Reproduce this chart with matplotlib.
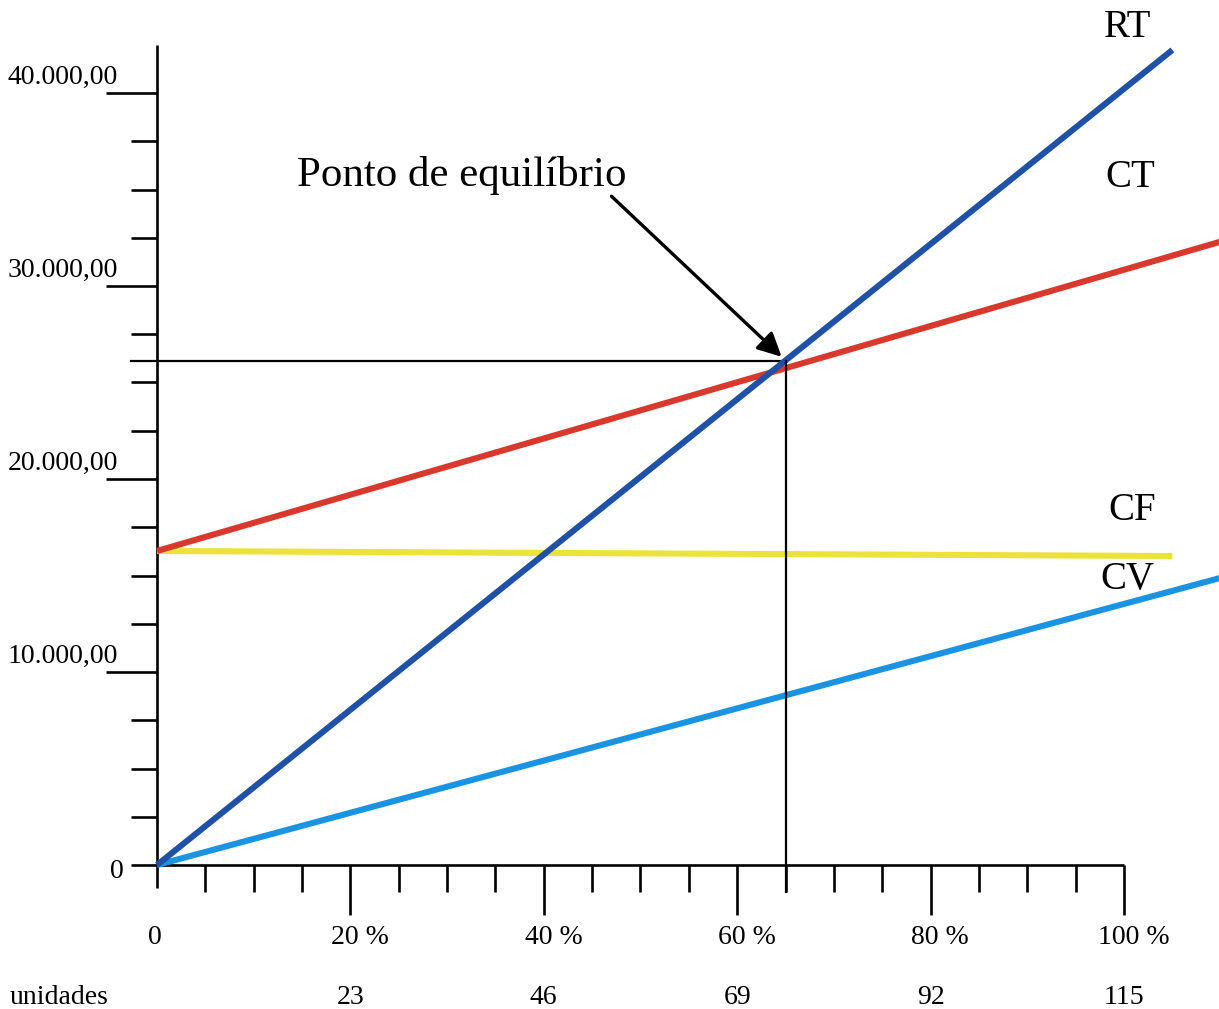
import numpy as np
import matplotlib.pyplot as plt

plt.rcParams['font.family'] = ['Liberation Serif', 'DejaVu Serif']

# x axis: percent of capacity, second row = units
pct = [0, 20, 40, 60, 80, 100]
pct_labels = ['0', '20 %', '40 %', '60 %', '80 %', '100 %']
unidades = ['23', '46', '69', '92', '115']

# y axis: R$
y_vals = [0, 10000, 20000, 30000, 40000]
y_labels = ['0', '10.000,00', '20.000,00', '30.000,00', '40.000,00']

# lines (start / end in % and R$)
rt_x = [0, 105.0]
rt_y = [0, 42230]
ct_x = [0, 110.0]
ct_y = [16270, 32300]
cf_x = [0, 105.0]
cf_y = [16270, 16010]
cv_x = [0, 110.0]
cv_y = [0, 14880]

# break-even point
pe_x = 65
pe_y = 26110

# figure layout: 1 % = 9.67 px, 1000 R$ = 19.3 px
px_x = 9.67
px_y = 0.0193
W, H = 1219, 1009
x0, y0 = 157, 865

fig = plt.figure(figsize=(W / 100, H / 100), dpi=100)
ax = fig.add_axes([0, 0, 1, 1])
ax.set_xlim(-x0 / px_x, (W - x0) / px_x)
ax.set_ylim((y0 - H) / px_y, y0 / px_y)
ax.axis('off')


def dx(p):
    return p / px_x


def dy(p):
    return p / px_y


k = 'black'
axlw = 1.9
fs = 20

# axes
ax.plot([0, 0], [-dy(23), dy(y0 - 45)], color=k, lw=axlw, solid_capstyle='butt')
ax.plot([-dx(26), 100], [0, 0], color=k, lw=axlw, solid_capstyle='butt')

# y ticks
for v in np.arange(2500, 40001, 2500):
    ln = 51 if v in y_vals else 26
    ax.plot([-dx(ln), 0], [v, v], color=k, lw=axlw, solid_capstyle='butt')
for v, lab in zip(y_vals, y_labels):
    if v == 0:
        ax.text(-dx(33), v - dy(7), lab, ha='right', va='center', fontsize=fs)
    else:
        ax.text(-dx(39), v + dy(3), lab, ha='right', va='bottom', fontsize=fs)

# x ticks
for p in np.arange(5, 101, 5):
    ln = 50 if p in pct else 27
    ax.plot([p, p], [0, -dy(ln)], color=k, lw=axlw, solid_capstyle='butt')
for p, lab in zip(pct, pct_labels):
    off = -0.2 if p == 0 else 1.0
    ax.text(p + off, -dy(72), lab, ha='center', va='center', fontsize=fs)
for p, lab in zip(pct[1:], unidades):
    ax.text(p, -dy(133), lab, ha='center', va='center', fontsize=fs)
ax.text(-dx(147), -dy(133), 'unidades', ha='left', va='center', fontsize=fs)

# series
lw = 4.4
ax.plot(cf_x, cf_y, color='#ece23c', lw=lw, solid_capstyle='butt', zorder=3)
ax.plot(cv_x, cv_y, color='#1a93e3', lw=lw, solid_capstyle='butt', zorder=3)
ax.plot(ct_x, ct_y, color='#d8392c', lw=lw, solid_capstyle='butt', zorder=4)
ax.plot(rt_x, rt_y, color='#1f52a6', lw=lw, solid_capstyle='butt', zorder=5)

# break-even guides
ax.plot([-dx(26), pe_x], [pe_y, pe_y], color=k, lw=1.6, zorder=2)
ax.plot([pe_x, pe_x], [pe_y, -dy(27)], color=k, lw=1.6, zorder=6)

# series labels
lab_fs = 28
ax.text(100.4, 43370, 'RT', ha='center', va='center', fontsize=lab_fs)
ax.text(100.6, 35600, 'CT', ha='center', va='center', fontsize=lab_fs)
ax.text(100.8, 18390, 'CF', ha='center', va='center', fontsize=lab_fs)
ax.text(100.4, 14770, 'CV', ha='center', va='center', fontsize=lab_fs)

# annotation
ax.text(31.5, 35750, 'Ponto de equilíbrio', ha='center', va='center', fontsize=31)
ax.annotate('', xy=(64.6, 26330), xytext=(47.0, 34650),
            arrowprops=dict(arrowstyle='-|>', color=k, lw=2.4, mutation_scale=36,
                            shrinkA=0, shrinkB=0),
            zorder=7)

fig.savefig('out.png', dpi=100)
